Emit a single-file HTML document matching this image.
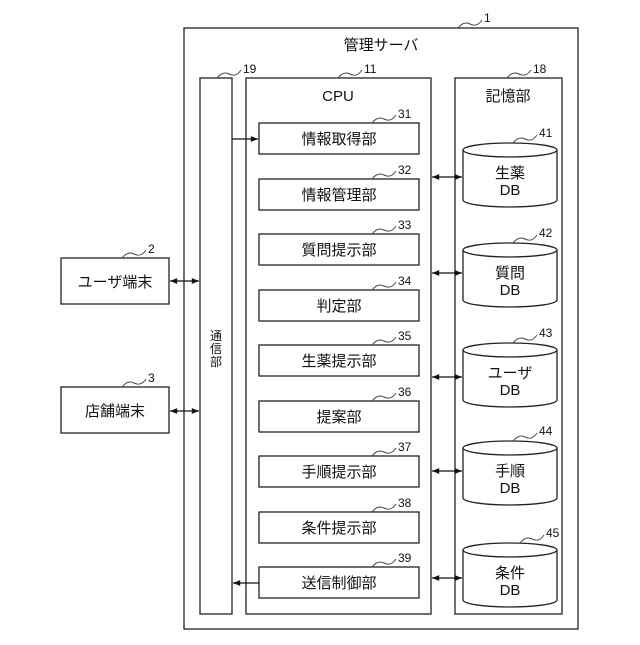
<!DOCTYPE html>
<html><head><meta charset="utf-8"><style>
html,body{margin:0;padding:0;background:#fff}
svg text{font-family:"Liberation Sans","Noto Sans CJK JP",sans-serif;fill:#111}
</style></head><body>
<svg width="640" height="640" viewBox="0 0 640 640" xmlns="http://www.w3.org/2000/svg">
<defs>
<marker id="a" viewBox="0 0 10 10" refX="10" refY="5" markerWidth="8" markerHeight="6" orient="auto-start-reverse"><path d="M0,1 L10,5 L0,9 z" fill="#111"/></marker>
</defs>
<g fill="none" stroke="#222" stroke-width="1.3">
<rect x="184" y="28" width="394" height="601"/>
<rect x="200" y="78" width="32" height="536"/>
<rect x="246" y="78" width="185" height="536"/>
<rect x="455" y="78" width="107" height="536"/>
<rect x="61" y="258" width="108" height="46"/>
<rect x="61" y="387" width="108" height="46"/>
<rect x="259" y="123" width="160" height="31"/>
<rect x="259" y="179" width="160" height="31"/>
<rect x="259" y="234" width="160" height="31"/>
<rect x="259" y="290" width="160" height="31"/>
<rect x="259" y="345" width="160" height="31"/>
<rect x="259" y="401" width="160" height="31"/>
<rect x="259" y="456" width="160" height="31"/>
<rect x="259" y="512" width="160" height="31"/>
<rect x="259" y="567" width="160" height="31"/>
</g>
<g fill="#fff" stroke="#222" stroke-width="1.3">
<path d="M463,150 v50 a47,7 0 0 0 94,0 v-50"/><ellipse cx="510" cy="150" rx="47" ry="7"/>
<path d="M463,250 v50 a47,7 0 0 0 94,0 v-50"/><ellipse cx="510" cy="250" rx="47" ry="7"/>
<path d="M463,350 v50 a47,7 0 0 0 94,0 v-50"/><ellipse cx="510" cy="350" rx="47" ry="7"/>
<path d="M463,448 v50 a47,7 0 0 0 94,0 v-50"/><ellipse cx="510" cy="448" rx="47" ry="7"/>
<path d="M463,550 v50 a47,7 0 0 0 94,0 v-50"/><ellipse cx="510" cy="550" rx="47" ry="7"/>
</g>
<g stroke="#111" stroke-width="1.2">
<line x1="170" y1="281" x2="199" y2="281" marker-start="url(#a)" marker-end="url(#a)"/>
<line x1="170" y1="411" x2="199" y2="411" marker-start="url(#a)" marker-end="url(#a)"/>
<line x1="232" y1="139" x2="258" y2="139" marker-end="url(#a)"/>
<line x1="259" y1="583" x2="233" y2="583" marker-end="url(#a)"/>
<line x1="432" y1="177" x2="462" y2="177" marker-start="url(#a)" marker-end="url(#a)"/>
<line x1="432" y1="273" x2="462" y2="273" marker-start="url(#a)" marker-end="url(#a)"/>
<line x1="432" y1="377" x2="462" y2="377" marker-start="url(#a)" marker-end="url(#a)"/>
<line x1="432" y1="471" x2="462" y2="471" marker-start="url(#a)" marker-end="url(#a)"/>
<line x1="432" y1="578" x2="462" y2="578" marker-start="url(#a)" marker-end="url(#a)"/>
</g>
<g fill="none" stroke="#444" stroke-width="1">
<path d="M458,28 c4,-5 8,-6 12,-4 s8,2 12,-4"/>
<path d="M217,78 c4,-5 8,-6 12,-4 s8,2 12,-4"/>
<path d="M338,78 c4,-5 8,-6 12,-4 s8,2 12,-4"/>
<path d="M507,78 c4,-5 8,-6 12,-4 s8,2 12,-4"/>
<path d="M122,258 c4,-5 8,-6 12,-4 s8,2 12,-4"/>
<path d="M122,387 c4,-5 8,-6 12,-4 s8,2 12,-4"/>
<path d="M372,123 c4,-5 8,-6 12,-4 s8,2 12,-4"/>
<path d="M372,179 c4,-5 8,-6 12,-4 s8,2 12,-4"/>
<path d="M372,234 c4,-5 8,-6 12,-4 s8,2 12,-4"/>
<path d="M372,290 c4,-5 8,-6 12,-4 s8,2 12,-4"/>
<path d="M372,345 c4,-5 8,-6 12,-4 s8,2 12,-4"/>
<path d="M372,401 c4,-5 8,-6 12,-4 s8,2 12,-4"/>
<path d="M372,456 c4,-5 8,-6 12,-4 s8,2 12,-4"/>
<path d="M372,512 c4,-5 8,-6 12,-4 s8,2 12,-4"/>
<path d="M372,567 c4,-5 8,-6 12,-4 s8,2 12,-4"/>
<path d="M513,143 c4,-5 8,-6 12,-4 s8,2 12,-4"/>
<path d="M513,243 c4,-5 8,-6 12,-4 s8,2 12,-4"/>
<path d="M513,343 c4,-5 8,-6 12,-4 s8,2 12,-4"/>
<path d="M513,441 c4,-5 8,-6 12,-4 s8,2 12,-4"/>
<path d="M520,543 c4,-5 8,-6 12,-4 s8,2 12,-4"/>
</g>
<g font-size="12">
<text x="484" y="22">1</text><text x="243" y="73">19</text><text x="364" y="73">11</text><text x="533" y="73">18</text>
<text x="148" y="253">2</text><text x="148" y="382">3</text>
<text x="398" y="118">31</text><text x="398" y="174">32</text><text x="398" y="229">33</text><text x="398" y="285">34</text><text x="398" y="340">35</text><text x="398" y="396">36</text><text x="398" y="451">37</text><text x="398" y="507">38</text><text x="398" y="562">39</text>
<text x="539" y="137">41</text><text x="539" y="237">42</text><text x="539" y="337">43</text><text x="539" y="435">44</text><text x="546" y="537">45</text>
</g>
<g font-size="15" text-anchor="middle">
<text x="381" y="50">管理サーバ</text>
<text x="338" y="101">CPU</text>
<text x="508" y="101">記憶部</text>
<text x="115" y="287">ユーザ端末</text>
<text x="115" y="416">店舗端末</text>
<text x="339" y="144">情報取得部</text>
<text x="339" y="200">情報管理部</text>
<text x="339" y="255">質問提示部</text>
<text x="339" y="311">判定部</text>
<text x="339" y="366">生薬提示部</text>
<text x="339" y="422">提案部</text>
<text x="339" y="477">手順提示部</text>
<text x="339" y="533">条件提示部</text>
<text x="339" y="588">送信制御部</text>
<text x="510" y="178">生薬</text><text x="510" y="195">DB</text>
<text x="510" y="278">質問</text><text x="510" y="295">DB</text>
<text x="510" y="378">ユーザ</text><text x="510" y="395">DB</text>
<text x="510" y="476">手順</text><text x="510" y="493">DB</text>
<text x="510" y="578">条件</text><text x="510" y="595">DB</text>
</g>
<g font-size="12" text-anchor="middle">
<text x="216" y="340">通</text><text x="216" y="353">信</text><text x="216" y="366">部</text>
</g>
</svg>
</body></html>
